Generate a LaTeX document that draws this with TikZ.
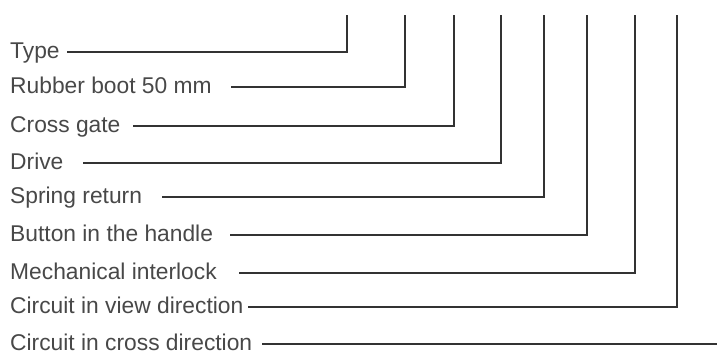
\documentclass[tikz,border=0pt]{standalone}
\usepackage{fontspec}
\setmainfont{Liberation Sans}
\usepackage{tikz}
\definecolor{leadgray}{HTML}{333333}
\definecolor{textgray}{HTML}{484848}

\begin{document}
\begin{tikzpicture}[x=1pt, y=-1pt,
    label/.style={anchor=base west, inner sep=0pt, text=textgray, font=\fontsize{22.8}{27}\selectfont},
    lead/.style={draw=leadgray, line width=1.8pt, line join=miter}]
    \useasboundingbox (0, 0) rectangle (717, 351);

    % Labels with their leaders: name / text / line start / corner / height
    \foreach \n/\txt/\xs/\xc/\yl in {
        type/Type/67/347/52,
        boot/Rubber boot 50 mm/231/405/87,
        gate/Cross gate/133/454/126,
        drive/Drive/83/501/163,
        spring/Spring return/162/544/197,
        button/Button in the handle/230/587/235,
        interlock/Mechanical interlock/239/635/273,
        view/Circuit in view direction/248/677/307} {
        \node[label] (\n) at (10, \yl+6) {\txt};
        \coordinate (\n-start) at (\xs, \yl);
        \coordinate (\n-corner) at (\xc, \yl);
        \coordinate (\n-top) at (\xc, 15);
        \draw[lead] (\n-start) -- (\n-corner) -- (\n-top);
    }

    % Last leader runs straight out to the right
    \node[label] (cross) at (10, 350) {Circuit in cross direction};
    \coordinate (cross-start) at (262, 344);
    \coordinate (cross-end) at (717, 344);
    \draw[lead] (cross-start) -- (cross-end);
\end{tikzpicture}
\end{document}
